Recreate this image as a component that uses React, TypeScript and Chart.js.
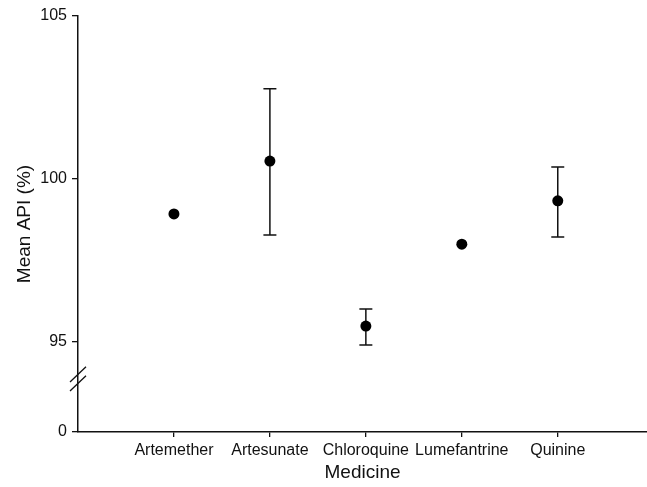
import React, { useEffect, useRef } from 'react';
import { Chart, registerables } from 'chart.js';
Chart.register(...registerables);

// ---- data ----
const categories = ['Artemether', 'Artesunate', 'Chloroquine', 'Lumefantrine', 'Quinine'];
const meanApi = [98.93, 100.55, 95.49, 98.0, 99.33];
const errUpper: (number | null)[] = [null, 102.77, 96.01, null, 100.37];
const errLower: (number | null)[] = [null, 98.28, 94.91, null, 98.22];
const yTickValues = [95, 100, 105];
const yZeroLabel = '0';
const yAxisBottom = 92.24; // position on the broken axis where "0" is shown
const yAxisTop = 105;
const yBreakValue = 93.87;
const xMax = 5.93;
const xTitle = 'Medicine';
const yTitle = 'Mean API (%)';

const FONT = "'Liberation Sans', Arial, Helvetica, sans-serif";
const INK = '#111';

const errorBarPlugin = {
  id: 'errorBars',
  beforeDatasetsDraw(chart: any) {
    const { ctx, scales } = chart;
    const xs = scales.x;
    const ys = scales.y;
    ctx.save();
    ctx.strokeStyle = INK;
    ctx.lineWidth = 1.5;
    categories.forEach((_, i) => {
      const hi = errUpper[i];
      const lo = errLower[i];
      if (hi == null || lo == null) return;
      const x = xs.getPixelForValue(i + 1);
      const yh = ys.getPixelForValue(hi);
      const yl = ys.getPixelForValue(lo);
      ctx.beginPath();
      ctx.moveTo(x, yh);
      ctx.lineTo(x, yl);
      ctx.moveTo(x - 6.5, yh);
      ctx.lineTo(x + 6.5, yh);
      ctx.moveTo(x - 6.5, yl);
      ctx.lineTo(x + 6.5, yl);
      ctx.stroke();
    });
    ctx.restore();
  },
};

const axisBreakPlugin = {
  id: 'axisBreak',
  afterDraw(chart: any) {
    const { ctx, scales } = chart;
    const x = scales.y.right;
    const yc = scales.y.getPixelForValue(yBreakValue);
    ctx.save();
    ctx.strokeStyle = INK;
    ctx.lineWidth = 1.3;
    [-4.5, 4.5].forEach((dy) => {
      ctx.beginPath();
      ctx.moveTo(x - 8, yc + dy + 7.7);
      ctx.lineTo(x + 8, yc + dy - 7.7);
      ctx.stroke();
    });
    ctx.restore();
  },
};

export default function App() {
  const ref = useRef<HTMLCanvasElement>(null);
  useEffect(() => {
    document.body.style.margin = '0';
    const canvas = ref.current!;
    const chart = new Chart(canvas, {
      type: 'scatter',
      data: {
        datasets: [
          {
            data: meanApi.map((v, i) => ({ x: i + 1, y: v })),
            backgroundColor: '#000',
            borderWidth: 0,
            pointRadius: 5.5,
            pointHoverRadius: 5.5,
          },
        ],
      },
      options: {
        responsive: false,
        animation: false,
        layout: { autoPadding: false, padding: { top: 16, right: 0, left: 0, bottom: 0 } },
        plugins: { legend: { display: false }, tooltip: { enabled: false } },
        scales: {
          x: {
            type: 'linear',
            min: 0,
            max: xMax,
            afterBuildTicks: (s: any) => {
              s.ticks = categories.map((_, i) => ({ value: i + 1 }));
            },
            afterFit: (s: any) => {
              s.height = 55;
            },
            ticks: {
              color: INK,
              font: { family: FONT, size: 16 },
              padding: 4,
              maxRotation: 0,
              autoSkip: false,
              callback: (v: any) => categories[Math.round(Number(v)) - 1] ?? '',
            },
            grid: { display: true, drawOnChartArea: false, drawTicks: true, tickLength: 5, color: INK, lineWidth: 1.3 },
            border: { display: true, color: INK, width: 1.5 },
            title: { display: true, text: xTitle, color: INK, font: { family: FONT, size: 19 }, padding: { top: 0, bottom: 3 } },
          },
          y: {
            type: 'linear',
            min: yAxisBottom,
            max: yAxisTop,
            afterBuildTicks: (s: any) => {
              s.ticks = [{ value: yAxisBottom }, ...yTickValues.map((v) => ({ value: v }))];
            },
            afterFit: (s: any) => {
              s.width = 78;
            },
            ticks: {
              color: INK,
              font: { family: FONT, size: 16 },
              padding: 5,
              autoSkip: false,
              callback: (v: any) => (Number(v) === yAxisBottom ? yZeroLabel : String(v)),
            },
            grid: { display: true, drawOnChartArea: false, drawTicks: true, tickLength: 6, color: INK, lineWidth: 1.3 },
            border: { display: true, color: INK, width: 1.5 },
            title: { display: true, text: yTitle, color: INK, font: { family: FONT, size: 19 }, padding: { top: 13, bottom: 0 } },
          },
        },
      },
      plugins: [errorBarPlugin, axisBreakPlugin],
    } as any);
    return () => chart.destroy();
  }, []);
  return <canvas ref={ref} width={647} height={487} style={{ display: 'block' }} />;
}
